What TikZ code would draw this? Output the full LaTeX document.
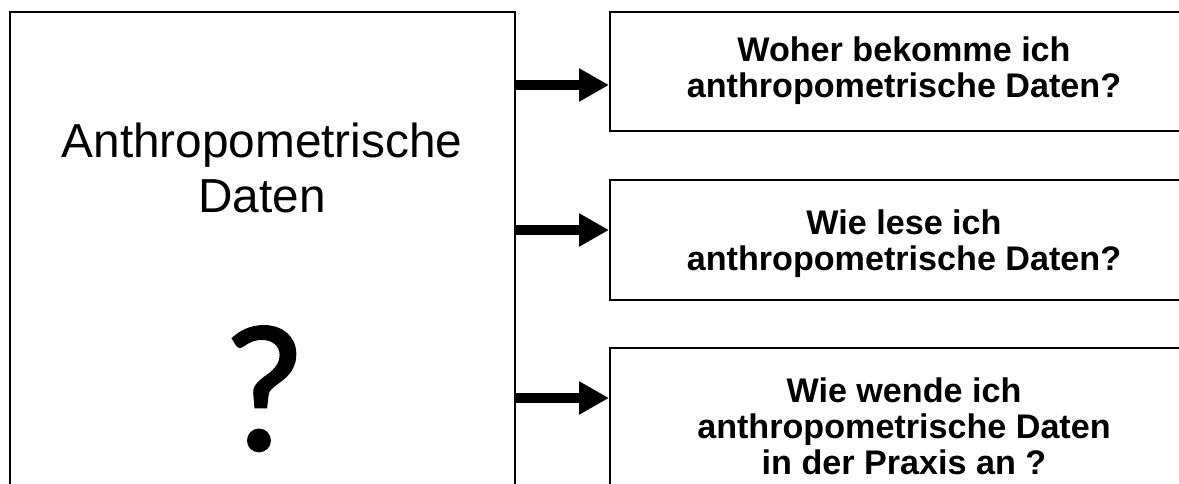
\documentclass[tikz,border=0pt]{standalone}
\usepackage{fontspec}
\setmainfont{Liberation Sans}
\newfontfamily\qfont[FakeBold=1.2]{Carlito}
\usetikzlibrary{arrows.meta}
\begin{document}
\begin{tikzpicture}[x=0.75pt,y=-0.75pt,
  box/.style={draw=black,line width=1.4pt,fill=white,inner sep=0pt,anchor=north west},
  bigtext/.style={font=\fontsize{35.8pt}{41.25pt}\selectfont,align=center,anchor=base},
  smalltext/.style={font=\fontsize{25.6pt}{27pt}\selectfont\bfseries,align=center,anchor=base},
  arr/.style={line width=7.5pt,-{Triangle[length=22.5pt,width=23.5pt]}}]
\useasboundingbox[fill=white] (0,0) rectangle (1179,484);
\node[box,minimum width=505*0.75pt,minimum height=500*0.75pt] (L) at (9,11) {};
\node[box,minimum width=590*0.75pt,minimum height=119*0.75pt] (R1) at (609,11) {};
\node[box,minimum width=590*0.75pt,minimum height=120*0.75pt] (R2) at (609,179) {};
\node[box,minimum width=590*0.75pt,minimum height=160*0.75pt] (R3) at (609,347) {};
\node[bigtext] (t0) at (262,213) {Anthropometrische\\Daten};
\node[anchor=base,inner sep=0pt,font=\qfont\fontsize{136pt}{140pt}\selectfont] (q) at (264,450) {?};
\node[smalltext] (t1) at (904,98) {Woher bekomme ich\\anthropometrische Daten?};
\node[smalltext] (t2) at (904,271) {Wie lese ich\\anthropometrische Daten?};
\node[smalltext] (t3) at (904,475) {Wie wende ich\\anthropometrische Daten\\in der Praxis an ?};
\coordinate (a1) at (560,85);
\coordinate (a2) at (560,230);
\coordinate (a3) at (560,398);
\draw[arr] (L.east |- a1) -- (R1.west |- a1);
\draw[arr] (L.east |- a2) -- (R2.west |- a2);
\draw[arr] (L.east |- a3) -- (R3.west |- a3);
\end{tikzpicture}
\end{document}
